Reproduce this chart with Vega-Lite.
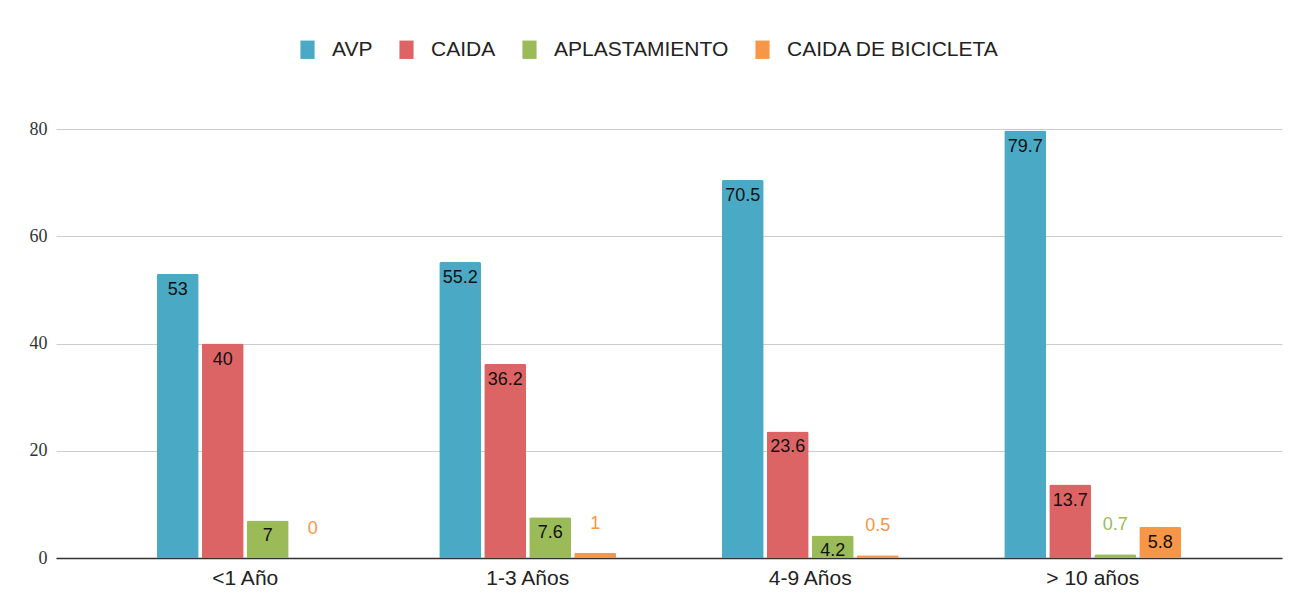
{
  "$schema": "https://vega.github.io/schema/vega-lite/v6.json",
  "width": 1226,
  "height": 429,
  "autosize": {"type": "none"},
  "padding": {"left": 56, "top": 129, "right": 23, "bottom": 46},
  "background": "white",
  "config": {
    "view": {"stroke": null},
    "font": "Liberation Sans"
  },
  "data": {
    "values": [
      {"grupo": "<1 Año", "serie": "AVP", "valor": 53},
      {"grupo": "<1 Año", "serie": "CAIDA", "valor": 40},
      {"grupo": "<1 Año", "serie": "APLASTAMIENTO", "valor": 7},
      {"grupo": "<1 Año", "serie": "CAIDA DE BICICLETA", "valor": 0},
      {"grupo": "1-3 Años", "serie": "AVP", "valor": 55.2},
      {"grupo": "1-3 Años", "serie": "CAIDA", "valor": 36.2},
      {"grupo": "1-3 Años", "serie": "APLASTAMIENTO", "valor": 7.6},
      {"grupo": "1-3 Años", "serie": "CAIDA DE BICICLETA", "valor": 1},
      {"grupo": "4-9 Años", "serie": "AVP", "valor": 70.5},
      {"grupo": "4-9 Años", "serie": "CAIDA", "valor": 23.6},
      {"grupo": "4-9 Años", "serie": "APLASTAMIENTO", "valor": 4.2},
      {"grupo": "4-9 Años", "serie": "CAIDA DE BICICLETA", "valor": 0.5},
      {"grupo": "> 10 años", "serie": "AVP", "valor": 79.7},
      {"grupo": "> 10 años", "serie": "CAIDA", "valor": 13.7},
      {"grupo": "> 10 años", "serie": "APLASTAMIENTO", "valor": 0.7},
      {"grupo": "> 10 años", "serie": "CAIDA DE BICICLETA", "valor": 5.8}
    ]
  },
  "encoding": {
    "x": {
      "field": "grupo",
      "type": "nominal",
      "sort": ["<1 Año", "1-3 Años", "4-9 Años", "> 10 años"],
      "scale": {"paddingInner": 0.3735, "paddingOuter": 0.3566},
      "axis": {
        "title": null,
        "labelAngle": 0,
        "ticks": false,
        "labelPadding": 9,
        "labelFontSize": 21,
        "labelColor": "#222",
        "labelFont": "Liberation Sans",
        "domainColor": "#333",
        "domainWidth": 1.5,
        "grid": false
      }
    },
    "xOffset": {
      "field": "serie",
      "type": "nominal",
      "sort": ["AVP", "CAIDA", "APLASTAMIENTO", "CAIDA DE BICICLETA"],
      "scale": {"paddingInner": 0.0667, "paddingOuter": 0}
    },
    "y": {
      "field": "valor",
      "type": "quantitative",
      "scale": {"domain": [0, 80], "nice": false},
      "axis": {
        "title": null,
        "values": [0, 20, 40, 60, 80],
        "ticks": false,
        "domain": false,
        "labelPadding": 9,
        "labelFont": "Liberation Serif",
        "labelFontSize": 18,
        "labelColor": "#333",
        "gridColor": "#cccccc",
        "gridWidth": 1
      }
    }
  },
  "layer": [
    {
      "mark": {"type": "bar", "cornerRadiusTopLeft": 2, "cornerRadiusTopRight": 2},
      "encoding": {
        "color": {
          "field": "serie",
          "type": "nominal",
          "sort": ["AVP", "CAIDA", "APLASTAMIENTO", "CAIDA DE BICICLETA"],
          "scale": {
            "domain": ["AVP", "CAIDA", "APLASTAMIENTO", "CAIDA DE BICICLETA"],
            "range": ["#4aaac5", "#dd6464", "#9bbb59", "#f79646"]
          },
          "legend": {
            "title": null,
            "orient": "none",
            "direction": "horizontal",
            "legendX": 241,
            "legendY": -90,
            "symbolType": "M-1,-1.3 L1,-1.3 L1,1.3 L-1,1.3 Z",
            "symbolSize": 200,
            "symbolStrokeWidth": 0,
            "labelFontSize": 21,
            "labelFont": "Liberation Sans",
            "labelColor": "#222",
            "labelOffset": 14,
            "columnPadding": 23,
            "labelLimit": 400
          }
        }
      }
    },
    {
      "transform": [{"filter": "datum.valor >= 2"}],
      "mark": {"type": "text", "baseline": "top", "dy": 7, "fontSize": 18, "color": "#111"},
      "encoding": {"text": {"field": "valor", "type": "quantitative"}}
    },
    {
      "transform": [{"filter": "datum.valor < 2"}],
      "mark": {"type": "text", "baseline": "middle", "dy": -29, "fontSize": 18},
      "encoding": {
        "text": {"field": "valor", "type": "quantitative"},
        "color": {"field": "serie", "type": "nominal", "legend": null}
      }
    }
  ]
}
